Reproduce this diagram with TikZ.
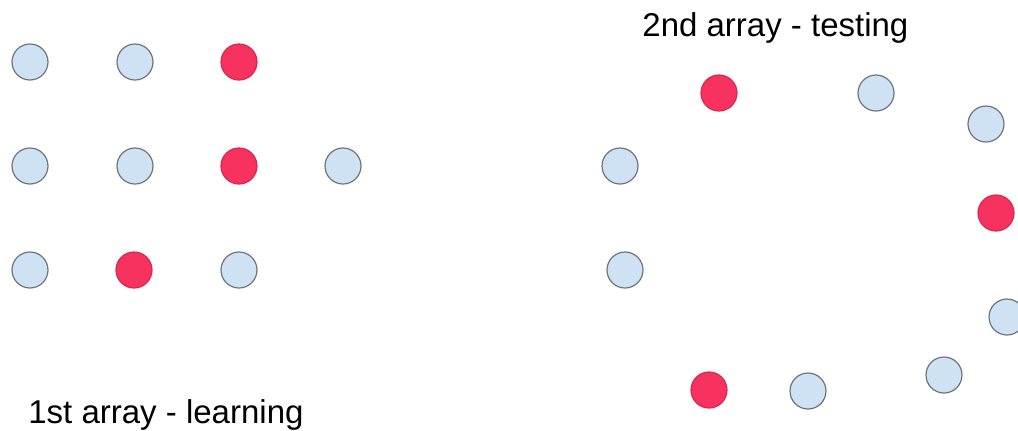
\documentclass[tikz,border=0pt]{standalone}
\usepackage{fontspec}
\setmainfont{Liberation Sans}
\usepackage{xcolor}
\usepackage{tikz}
\definecolor{dotblue}{HTML}{CFE2F3}
\definecolor{dotred}{HTML}{F8325F}
\definecolor{dotrim}{HTML}{6F7478}
\definecolor{redrim}{HTML}{D92850}
\begin{document}
\begin{tikzpicture}[x=0.5pt,y=-0.5pt,
  dot/.style={circle,draw=dotrim,line width=0.6pt,minimum size=18pt,inner sep=0pt,fill=dotblue},
  hit/.style={dot,draw=redrim,fill=dotred},
  caption/.style={anchor=base west,inner sep=0pt,font=\fontsize{16.5}{20}\selectfont}]
\useasboundingbox (0,0) rectangle (1018,430);
% 1st array - learning
\node[dot] (l11) at (30,62) {};
\node[dot] (l12) at (135,62) {};
\node[hit] (l13) at (239,62) {};
\node[dot] (l21) at (30,166) {};
\node[dot] (l22) at (135,166) {};
\node[hit] (l23) at (239,166) {};
\node[dot] (l24) at (343,166) {};
\node[dot] (l31) at (30,270) {};
\node[hit] (l32) at (134,270) {};
\node[dot] (l33) at (239,270) {};
\node[caption] (learn) at (28,423) {1st array - learning};
% 2nd array - testing
\node[hit] (t1) at (719,93) {};
\node[dot] (t2) at (876,93) {};
\node[dot] (t3) at (986,124) {};
\node[dot] (t4) at (620,166) {};
\node[hit] (t5) at (996,213) {};
\node[dot] (t6) at (625,270) {};
\node[dot] (t7) at (1007,317) {};
\node[dot] (t8) at (944,375) {};
\node[dot] (t9) at (808,391) {};
\node[hit] (t10) at (709,390) {};
\node[caption] (test) at (642,36) {2nd array - testing};
\end{tikzpicture}
\end{document}
